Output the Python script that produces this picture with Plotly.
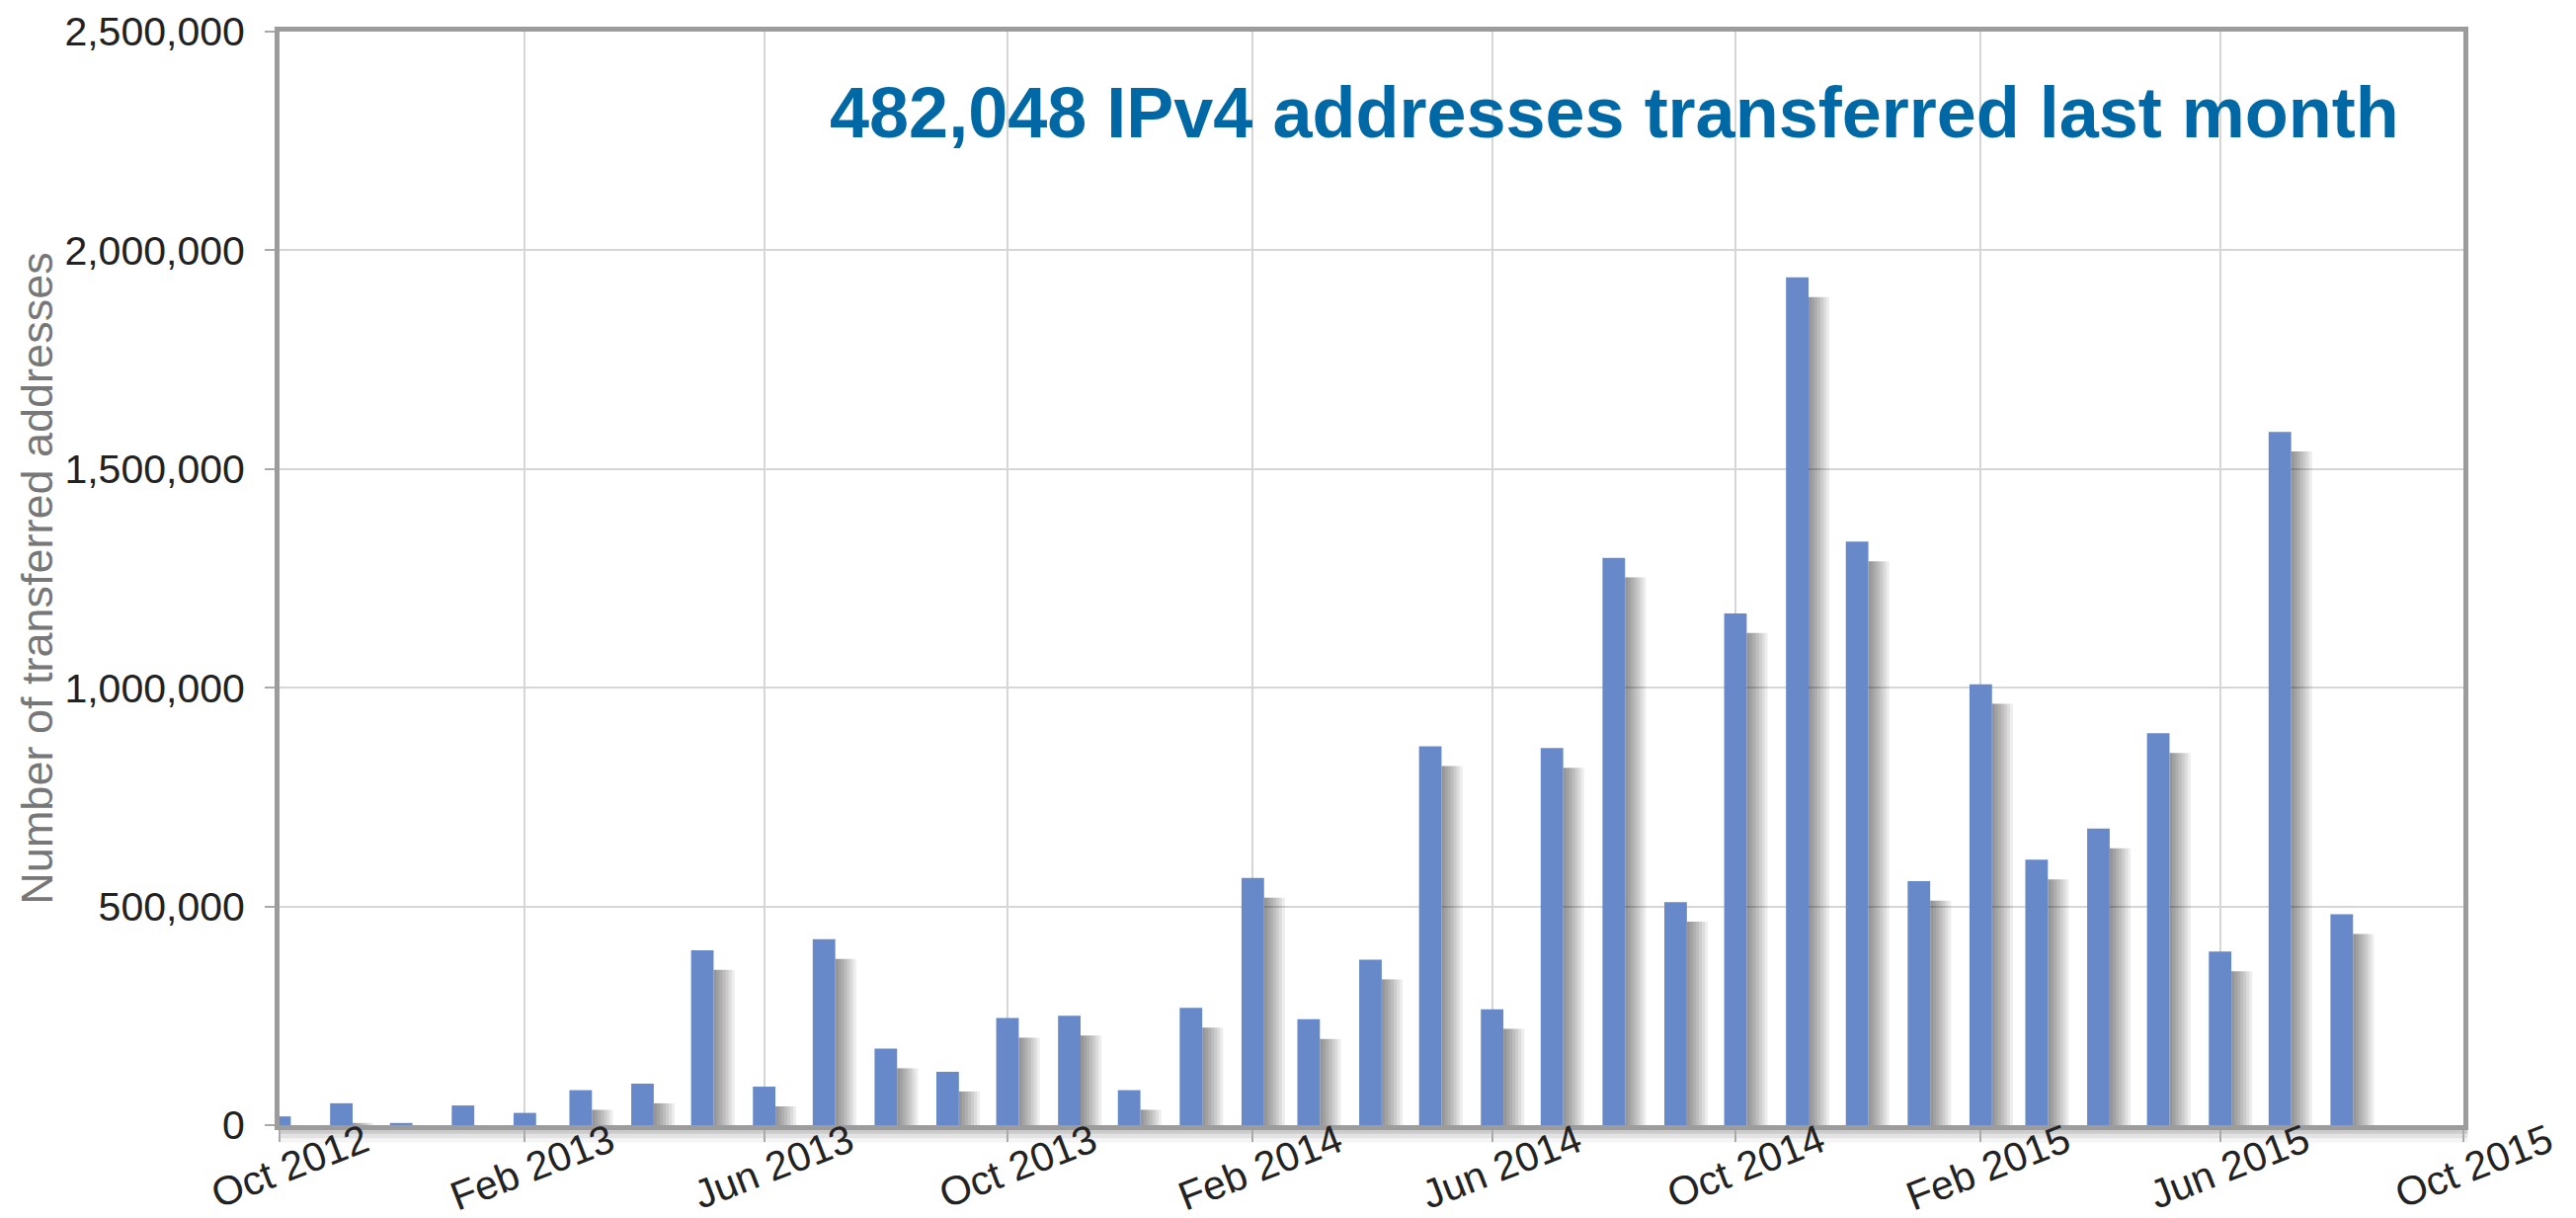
import plotly.graph_objects as go
import pandas as pd

# ---- data ----
months = pd.date_range("2012-10-01", "2015-08-01", freq="MS").strftime("%Y-%m-%d").tolist()
transferred = [
    20000, 50000, 5000, 45000, 28000, 80000, 95000, 400000, 88000, 425000,
    175000, 122000, 245000, 250000, 80000, 268000, 565000, 242000, 378000, 866000,
    265000, 862000, 1297000, 510000, 1170000, 1938000, 1334000, 558000, 1008000, 607000,
    678000, 896000, 397000, 1585000, 482048,
]
y_ticks = [0, 500000, 1000000, 1500000, 2000000, 2500000]
headline = "482,048 IPv4 addresses transferred last month"
y_title = "Number of transferred addresses"

DAY = 86400000
bar_w = 11.3 * DAY
shadow_drop = 45000

fig = go.Figure()

# soft shadow layers to the right of each bar
shadow_vals = [max(v - shadow_drop, 0) for v in transferred]
for w in [1.5, 3, 4.5, 6, 7.5, 9, 10.5]:
    fig.add_trace(go.Bar(
        x=months, y=shadow_vals, width=w * DAY, offset=bar_w / 2,
        marker=dict(color="rgba(0,0,0,0.07)", line=dict(width=0)),
        hoverinfo="skip", showlegend=False,
    ))

fig.add_trace(go.Bar(
    x=months, y=transferred, width=bar_w,
    marker=dict(color="#6889c9", line=dict(width=0)),
    showlegend=False,
))

# page body has an 8px margin: figure starts at (8, 8) and runs to the window edge
fig.update_layout(
    width=2600, height=1225,
    margin=dict(l=275, r=114, t=24, b=94),
    barmode="overlay",
    plot_bgcolor="white", paper_bgcolor="white",
    font=dict(family="Liberation Sans, Arial, sans-serif", size=41, color="#222"),
)

fig.update_xaxes(
    type="date", automargin=False,
    range=["2012-10-01", "2015-10-01"],
    tick0="2012-10-01", dtick="M4", tickformat="%b %Y",
    tickangle=-21,
    ticks="outside", ticklen=12, tickwidth=2, tickcolor="#aaa",
    ticklabelshift=86, ticklabelstandoff=-40,
    showgrid=True, gridcolor="#d6d6d6", gridwidth=2,
    showline=True, linecolor="#9c9c9c", linewidth=5, mirror=True,
    zeroline=False,
)
fig.update_yaxes(
    range=[0, 2500000], automargin=False,
    tickvals=y_ticks, tickformat=",d",
    ticks="outside", ticklen=10, tickwidth=2, tickcolor="#aaa",
    ticklabelstandoff=12,
    showgrid=True, gridcolor="#d6d6d6", gridwidth=2,
    showline=True, linecolor="#9c9c9c", linewidth=5, mirror=True,
    zeroline=False,
)

# axis shadow below bottom line
for i, a in enumerate([0.10, 0.07, 0.04]):
    fig.add_shape(type="rect", xref="paper", yref="paper",
                  x0=0, x1=1.002, y0=-0.004 - 0.004 * (i + 1), y1=-0.004,
                  line=dict(width=0), fillcolor=f"rgba(0,0,0,{a})", layer="below")

fig.add_annotation(
    text=f"<b>{headline}</b>", xref="paper", yref="paper",
    x=0.9715, y=0.926, xanchor="right", yanchor="middle", showarrow=False,
    font=dict(family="Liberation Sans, Arial, sans-serif", size=72, color="#0068a5"),
)
fig.add_annotation(
    text=y_title, xref="paper", yref="paper",
    x=-0.1112, y=0.5, xanchor="center", yanchor="middle", textangle=-90,
    showarrow=False, borderpad=0,
    font=dict(family="Liberation Sans, Arial, sans-serif", size=45, color="#777"),
)

fig.write_html("out.html")
